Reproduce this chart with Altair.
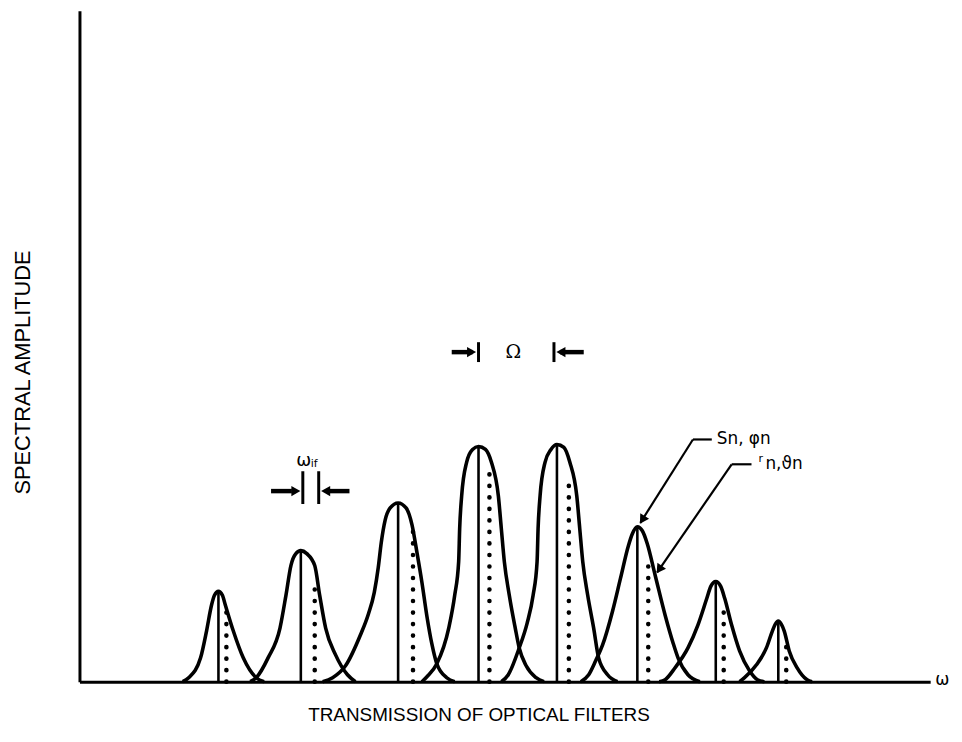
import altair as alt
import pandas as pd

# ---- data (ω units on x, amplitude units on y) ----
peak_center = [140, 223, 321, 402, 481, 562, 641, 704]
peak_height = [91, 132, 180, 237, 239, 156, 101, 61]
dot_center = [148, 237, 336, 413, 493, 573, 649, 712]
dot_height = [71, 104, 151, 211, 201, 127, 81, 37]

curve1_x = [104, 110, 122, 128, 133, 136, 140, 144, 147, 155, 165, 178, 186]
curve1_y = [0, 4, 24, 51, 77, 87, 91, 87, 77, 51, 24, 4, 0]
curve2_x = [172, 178, 190, 202, 208, 213, 218, 223, 229, 237, 242, 248, 258, 270, 278]
curve2_y = [0, 4, 24, 54, 87, 117, 129, 132, 129, 117, 87, 54, 27, 7, 0]
curve3_x = [245, 255, 268, 283, 291, 297, 301, 304, 308, 313, 321, 329, 335, 340, 345, 350, 355, 360, 370, 378]
curve3_y = [0, 4, 16, 47, 68, 90, 115, 140, 163, 175, 180, 175, 158, 130, 100, 66, 38, 18, 4, 0]
curve4_x = [345, 350, 360, 372, 378, 382, 383, 385, 390, 396, 402, 409, 415, 422, 425, 428, 433, 439, 443, 450, 460, 468]
curve4_y = [0, 5, 18, 54, 87, 121, 154, 187, 221, 234, 237, 234, 221, 187, 154, 121, 87, 54, 34, 16, 4, 0]
curve5_x = [425, 432, 443, 451, 457, 461, 462, 464, 469, 475, 481, 488, 494, 501, 504, 507, 512, 518, 523, 532, 542]
curve5_y = [0, 7, 34, 59, 87, 121, 154, 187, 221, 234, 239, 236, 221, 187, 154, 121, 87, 54, 24, 7, 0]
curve6_x = [505, 513, 520, 527, 537, 545, 553, 557, 562, 567, 572, 580, 590, 598, 603, 613, 625]
curve6_y = [0, 7, 21, 37, 71, 104, 137, 149, 156, 152, 139, 107, 67, 39, 24, 7, 0]
curve7_x = [584, 590, 600, 613, 623, 632, 636, 641, 646, 650, 657, 665, 675, 683, 690]
curve7_y = [0, 2, 14, 34, 57, 84, 96, 101, 96, 84, 57, 31, 11, 2, 0]
curve8_x = [665, 670, 682, 692, 698, 701, 704, 707, 710, 715, 723, 733, 738]
curve8_y = [0, 4, 17, 34, 51, 58, 61, 58, 51, 31, 14, 2, 0]

curves_x = [curve1_x, curve2_x, curve3_x, curve4_x, curve5_x, curve6_x, curve7_x, curve8_x]
curves_y = [curve1_y, curve2_y, curve3_y, curve4_y, curve5_y, curve6_y, curve7_y, curve8_y]

rows = []
for i, (xs_, ys_) in enumerate(zip(curves_x, curves_y)):
    for xv, yv in zip(xs_, ys_):
        rows.append({"peak": i + 1, "x": xv, "y": yv})
curve_df = pd.DataFrame(rows)

solid_df = pd.DataFrame({"x": peak_center, "y": peak_height, "y0": [0] * len(peak_center)})
dot_df = pd.DataFrame({"x": dot_center, "y": dot_height, "y0": [0] * len(dot_center)})

# ---- scales / axes ----
xs = alt.Scale(domain=[0, 857], nice=False, zero=False)
ys = alt.Scale(domain=[0, 676], nice=False, zero=False)
xaxis = alt.Axis(title="TRANSMISSION OF OPTICAL FILTERS", ticks=False, labels=False, grid=False,
                 domainColor="black", domainWidth=3, titleFont="Liberation Sans", titleFontSize=19,
                 titleFontWeight="normal", titleColor="black", titleX=402, titleY=33,
                 titleAlign="center", titleBaseline="middle")
yaxis = alt.Axis(title="SPECTRAL AMPLITUDE", ticks=False, labels=False, grid=False,
                 domainColor="black", domainWidth=3, titleFont="Liberation Sans", titleFontSize=22,
                 titleFontWeight="normal", titleColor="black", titleAngle=270, titleX=-57, titleY=364,
                 titleAlign="center", titleBaseline="middle")


def X(f):
    return alt.X(f, type="quantitative", scale=xs, axis=xaxis)


def Y(f):
    return alt.Y(f, type="quantitative", scale=ys, axis=yaxis)


curves = alt.Chart(curve_df).mark_line(interpolate="monotone", color="black", strokeWidth=3.6).encode(
    x=X("x"), y=Y("y"), detail="peak:N", order="x:Q")

solid = alt.Chart(solid_df).mark_rule(color="black", strokeWidth=2.6).encode(
    x=X("x"), y=Y("y"), y2="y0")

dotted = alt.Chart(dot_df).mark_rule(color="black", strokeWidth=4.6, strokeDash=[0.1, 11.5],
                                     strokeCap="round").encode(x=X("x"), y=Y("y0"), y2="y")

# annotation segments
bar_df = pd.DataFrame({"x": [402, 478, 225, 241], "x2": [402, 478, 225, 241],
                       "y": [342, 342, 212, 212], "y2": [322, 322, 179, 179]})
shaft_df = pd.DataFrame({"x": [375, 508, 193, 272], "x2": [396, 484, 214, 252],
                         "y": [332, 332, 192, 192], "y2": [332, 332, 192, 192]})
leader_df = pd.DataFrame({"x": [618, 618, 657, 657], "x2": [565, 637, 582, 677],
                          "y": [244, 244, 219, 219], "y2": [160, 244, 110, 219]})
head_df = pd.DataFrame({"x": [395, 485, 218, 248, 567, 584], "y": [332, 332, 192, 192, 163, 113],
                        "angle": [90, 270, 90, 270, 212, 214]})

bars = alt.Chart(bar_df).mark_rule(color="black", strokeWidth=3).encode(
    x=X("x"), x2="x2", y=Y("y"), y2="y2")
shafts = alt.Chart(shaft_df).mark_rule(color="black", strokeWidth=4.5).encode(
    x=X("x"), x2="x2", y=Y("y"), y2="y2")
leaders = alt.Chart(leader_df).mark_rule(color="black", strokeWidth=2.2).encode(
    x=X("x"), x2="x2", y=Y("y"), y2="y2")
heads = alt.Chart(head_df).mark_point(shape="triangle-up", filled=True, color="black", opacity=1,
                                      size=110).encode(
    x=X("x"), y=Y("y"), angle=alt.Angle("angle:Q", scale=None))


def label(x, y, text, size, font="Liberation Sans", align="left", dy=0):
    return alt.Chart(pd.DataFrame({"x": [x], "y": [y], "t": [text]})).mark_text(
        font=font, fontSize=size, align=align, baseline="middle", color="black", dy=dy).encode(
        x=X("x"), y=Y("y"), text="t:N")


texts = [
    label(437, 332, "Ω", 19, font="DejaVu Serif", align="center"),
    label(226, 222, "ω", 18, font="DejaVu Sans", align="center"),
    label(233, 219, "if", 11, font="DejaVu Sans"),
    label(642, 244, "Sn, φn", 17, font="DejaVu Sans"),
    label(684, 224, "r", 11, font="DejaVu Sans"),
    label(691, 219, "n,ϑn", 17, font="DejaVu Sans"),
    label(862, 2, "ω", 17, font="DejaVu Sans"),
]

chart = alt.layer(curves, solid, dotted, bars, shafts, leaders, heads, *texts).properties(
    width=857, height=676, autosize=alt.AutoSizeParams(type="none"),
    padding={"left": 72, "top": 0, "right": 24, "bottom": 45}, background="white"
).configure_view(stroke=None)

chart.save("out.html", embed_options={"renderer": "svg", "actions": False})
